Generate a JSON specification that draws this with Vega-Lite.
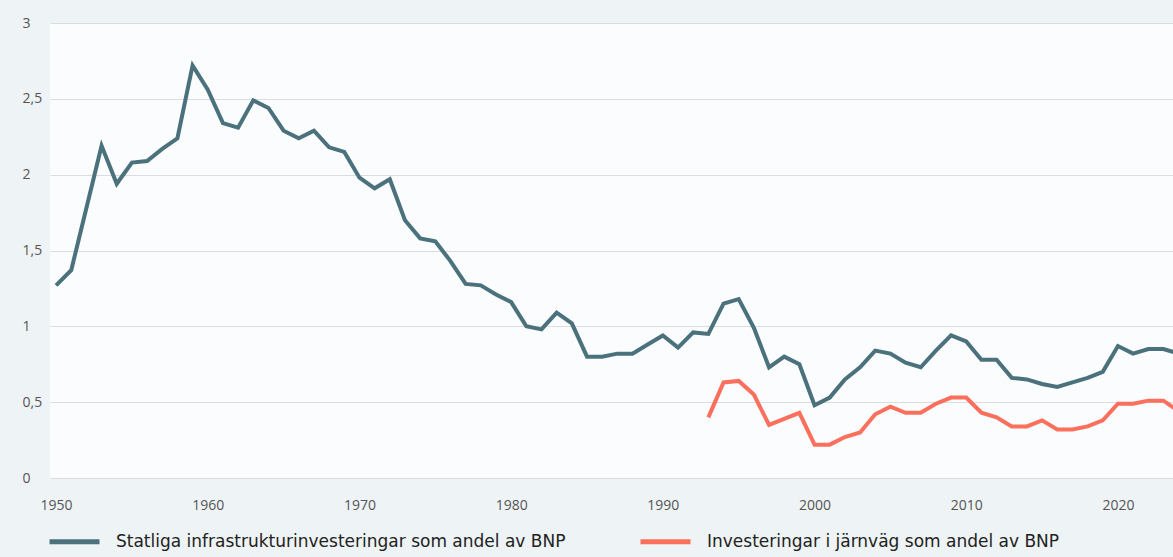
{
  "$schema": "https://vega.github.io/schema/vega-lite/v6.json",
  "width": 1123,
  "height": 455,
  "autosize": "none",
  "padding": {"left": 50, "top": 23, "right": 0, "bottom": 79},
  "background": "#eef3f5",
  "config": {
    "view": {"fill": "#fafcfd", "stroke": null},
    "font": "Open Sans"
  },
  "data": {
    "values": [
      {"year": 1950, "series": "Statliga infrastrukturinvesteringar som andel av BNP", "value": 1.27},
      {"year": 1951, "series": "Statliga infrastrukturinvesteringar som andel av BNP", "value": 1.37},
      {"year": 1952, "series": "Statliga infrastrukturinvesteringar som andel av BNP", "value": 1.78},
      {"year": 1953, "series": "Statliga infrastrukturinvesteringar som andel av BNP", "value": 2.19},
      {"year": 1954, "series": "Statliga infrastrukturinvesteringar som andel av BNP", "value": 1.94},
      {"year": 1955, "series": "Statliga infrastrukturinvesteringar som andel av BNP", "value": 2.08},
      {"year": 1956, "series": "Statliga infrastrukturinvesteringar som andel av BNP", "value": 2.09},
      {"year": 1957, "series": "Statliga infrastrukturinvesteringar som andel av BNP", "value": 2.17},
      {"year": 1958, "series": "Statliga infrastrukturinvesteringar som andel av BNP", "value": 2.24},
      {"year": 1959, "series": "Statliga infrastrukturinvesteringar som andel av BNP", "value": 2.72},
      {"year": 1960, "series": "Statliga infrastrukturinvesteringar som andel av BNP", "value": 2.56},
      {"year": 1961, "series": "Statliga infrastrukturinvesteringar som andel av BNP", "value": 2.34},
      {"year": 1962, "series": "Statliga infrastrukturinvesteringar som andel av BNP", "value": 2.31},
      {"year": 1963, "series": "Statliga infrastrukturinvesteringar som andel av BNP", "value": 2.49},
      {"year": 1964, "series": "Statliga infrastrukturinvesteringar som andel av BNP", "value": 2.44},
      {"year": 1965, "series": "Statliga infrastrukturinvesteringar som andel av BNP", "value": 2.29},
      {"year": 1966, "series": "Statliga infrastrukturinvesteringar som andel av BNP", "value": 2.24},
      {"year": 1967, "series": "Statliga infrastrukturinvesteringar som andel av BNP", "value": 2.29},
      {"year": 1968, "series": "Statliga infrastrukturinvesteringar som andel av BNP", "value": 2.18},
      {"year": 1969, "series": "Statliga infrastrukturinvesteringar som andel av BNP", "value": 2.15},
      {"year": 1970, "series": "Statliga infrastrukturinvesteringar som andel av BNP", "value": 1.98},
      {"year": 1971, "series": "Statliga infrastrukturinvesteringar som andel av BNP", "value": 1.91},
      {"year": 1972, "series": "Statliga infrastrukturinvesteringar som andel av BNP", "value": 1.97},
      {"year": 1973, "series": "Statliga infrastrukturinvesteringar som andel av BNP", "value": 1.7},
      {"year": 1974, "series": "Statliga infrastrukturinvesteringar som andel av BNP", "value": 1.58},
      {"year": 1975, "series": "Statliga infrastrukturinvesteringar som andel av BNP", "value": 1.56},
      {"year": 1976, "series": "Statliga infrastrukturinvesteringar som andel av BNP", "value": 1.43},
      {"year": 1977, "series": "Statliga infrastrukturinvesteringar som andel av BNP", "value": 1.28},
      {"year": 1978, "series": "Statliga infrastrukturinvesteringar som andel av BNP", "value": 1.27},
      {"year": 1979, "series": "Statliga infrastrukturinvesteringar som andel av BNP", "value": 1.21},
      {"year": 1980, "series": "Statliga infrastrukturinvesteringar som andel av BNP", "value": 1.16},
      {"year": 1981, "series": "Statliga infrastrukturinvesteringar som andel av BNP", "value": 1.0},
      {"year": 1982, "series": "Statliga infrastrukturinvesteringar som andel av BNP", "value": 0.98},
      {"year": 1983, "series": "Statliga infrastrukturinvesteringar som andel av BNP", "value": 1.09},
      {"year": 1984, "series": "Statliga infrastrukturinvesteringar som andel av BNP", "value": 1.02},
      {"year": 1985, "series": "Statliga infrastrukturinvesteringar som andel av BNP", "value": 0.8},
      {"year": 1986, "series": "Statliga infrastrukturinvesteringar som andel av BNP", "value": 0.8},
      {"year": 1987, "series": "Statliga infrastrukturinvesteringar som andel av BNP", "value": 0.82},
      {"year": 1988, "series": "Statliga infrastrukturinvesteringar som andel av BNP", "value": 0.82},
      {"year": 1989, "series": "Statliga infrastrukturinvesteringar som andel av BNP", "value": 0.88},
      {"year": 1990, "series": "Statliga infrastrukturinvesteringar som andel av BNP", "value": 0.94},
      {"year": 1991, "series": "Statliga infrastrukturinvesteringar som andel av BNP", "value": 0.86},
      {"year": 1992, "series": "Statliga infrastrukturinvesteringar som andel av BNP", "value": 0.96},
      {"year": 1993, "series": "Statliga infrastrukturinvesteringar som andel av BNP", "value": 0.95},
      {"year": 1994, "series": "Statliga infrastrukturinvesteringar som andel av BNP", "value": 1.15},
      {"year": 1995, "series": "Statliga infrastrukturinvesteringar som andel av BNP", "value": 1.18},
      {"year": 1996, "series": "Statliga infrastrukturinvesteringar som andel av BNP", "value": 0.99},
      {"year": 1997, "series": "Statliga infrastrukturinvesteringar som andel av BNP", "value": 0.73},
      {"year": 1998, "series": "Statliga infrastrukturinvesteringar som andel av BNP", "value": 0.8},
      {"year": 1999, "series": "Statliga infrastrukturinvesteringar som andel av BNP", "value": 0.75},
      {"year": 2000, "series": "Statliga infrastrukturinvesteringar som andel av BNP", "value": 0.48},
      {"year": 2001, "series": "Statliga infrastrukturinvesteringar som andel av BNP", "value": 0.53},
      {"year": 2002, "series": "Statliga infrastrukturinvesteringar som andel av BNP", "value": 0.65},
      {"year": 2003, "series": "Statliga infrastrukturinvesteringar som andel av BNP", "value": 0.73},
      {"year": 2004, "series": "Statliga infrastrukturinvesteringar som andel av BNP", "value": 0.84},
      {"year": 2005, "series": "Statliga infrastrukturinvesteringar som andel av BNP", "value": 0.82},
      {"year": 2006, "series": "Statliga infrastrukturinvesteringar som andel av BNP", "value": 0.76},
      {"year": 2007, "series": "Statliga infrastrukturinvesteringar som andel av BNP", "value": 0.73},
      {"year": 2008, "series": "Statliga infrastrukturinvesteringar som andel av BNP", "value": 0.84},
      {"year": 2009, "series": "Statliga infrastrukturinvesteringar som andel av BNP", "value": 0.94},
      {"year": 2010, "series": "Statliga infrastrukturinvesteringar som andel av BNP", "value": 0.9},
      {"year": 2011, "series": "Statliga infrastrukturinvesteringar som andel av BNP", "value": 0.78},
      {"year": 2012, "series": "Statliga infrastrukturinvesteringar som andel av BNP", "value": 0.78},
      {"year": 2013, "series": "Statliga infrastrukturinvesteringar som andel av BNP", "value": 0.66},
      {"year": 2014, "series": "Statliga infrastrukturinvesteringar som andel av BNP", "value": 0.65},
      {"year": 2015, "series": "Statliga infrastrukturinvesteringar som andel av BNP", "value": 0.62},
      {"year": 2016, "series": "Statliga infrastrukturinvesteringar som andel av BNP", "value": 0.6},
      {"year": 2017, "series": "Statliga infrastrukturinvesteringar som andel av BNP", "value": 0.63},
      {"year": 2018, "series": "Statliga infrastrukturinvesteringar som andel av BNP", "value": 0.66},
      {"year": 2019, "series": "Statliga infrastrukturinvesteringar som andel av BNP", "value": 0.7},
      {"year": 2020, "series": "Statliga infrastrukturinvesteringar som andel av BNP", "value": 0.87},
      {"year": 2021, "series": "Statliga infrastrukturinvesteringar som andel av BNP", "value": 0.82},
      {"year": 2022, "series": "Statliga infrastrukturinvesteringar som andel av BNP", "value": 0.85},
      {"year": 2023, "series": "Statliga infrastrukturinvesteringar som andel av BNP", "value": 0.85},
      {"year": 2024, "series": "Statliga infrastrukturinvesteringar som andel av BNP", "value": 0.82},
      {"year": 1993, "series": "Investeringar i järnväg som andel av BNP", "value": 0.4},
      {"year": 1994, "series": "Investeringar i järnväg som andel av BNP", "value": 0.63},
      {"year": 1995, "series": "Investeringar i järnväg som andel av BNP", "value": 0.64},
      {"year": 1996, "series": "Investeringar i järnväg som andel av BNP", "value": 0.55},
      {"year": 1997, "series": "Investeringar i järnväg som andel av BNP", "value": 0.35},
      {"year": 1998, "series": "Investeringar i järnväg som andel av BNP", "value": 0.39},
      {"year": 1999, "series": "Investeringar i järnväg som andel av BNP", "value": 0.43},
      {"year": 2000, "series": "Investeringar i järnväg som andel av BNP", "value": 0.22},
      {"year": 2001, "series": "Investeringar i järnväg som andel av BNP", "value": 0.22},
      {"year": 2002, "series": "Investeringar i järnväg som andel av BNP", "value": 0.27},
      {"year": 2003, "series": "Investeringar i järnväg som andel av BNP", "value": 0.3},
      {"year": 2004, "series": "Investeringar i järnväg som andel av BNP", "value": 0.42},
      {"year": 2005, "series": "Investeringar i järnväg som andel av BNP", "value": 0.47},
      {"year": 2006, "series": "Investeringar i järnväg som andel av BNP", "value": 0.43},
      {"year": 2007, "series": "Investeringar i järnväg som andel av BNP", "value": 0.43},
      {"year": 2008, "series": "Investeringar i järnväg som andel av BNP", "value": 0.49},
      {"year": 2009, "series": "Investeringar i järnväg som andel av BNP", "value": 0.53},
      {"year": 2010, "series": "Investeringar i järnväg som andel av BNP", "value": 0.53},
      {"year": 2011, "series": "Investeringar i järnväg som andel av BNP", "value": 0.43},
      {"year": 2012, "series": "Investeringar i järnväg som andel av BNP", "value": 0.4},
      {"year": 2013, "series": "Investeringar i järnväg som andel av BNP", "value": 0.34},
      {"year": 2014, "series": "Investeringar i järnväg som andel av BNP", "value": 0.34},
      {"year": 2015, "series": "Investeringar i järnväg som andel av BNP", "value": 0.38},
      {"year": 2016, "series": "Investeringar i järnväg som andel av BNP", "value": 0.32},
      {"year": 2017, "series": "Investeringar i järnväg som andel av BNP", "value": 0.32},
      {"year": 2018, "series": "Investeringar i järnväg som andel av BNP", "value": 0.34},
      {"year": 2019, "series": "Investeringar i järnväg som andel av BNP", "value": 0.38},
      {"year": 2020, "series": "Investeringar i järnväg som andel av BNP", "value": 0.49},
      {"year": 2021, "series": "Investeringar i järnväg som andel av BNP", "value": 0.49},
      {"year": 2022, "series": "Investeringar i järnväg som andel av BNP", "value": 0.51},
      {"year": 2023, "series": "Investeringar i järnväg som andel av BNP", "value": 0.51},
      {"year": 2024, "series": "Investeringar i järnväg som andel av BNP", "value": 0.44}
    ]
  },
  "mark": {"type": "line", "strokeWidth": 4, "clip": true, "strokeJoin": "miter"},
  "encoding": {
    "x": {
      "field": "year",
      "type": "quantitative",
      "scale": {"domain": [1949.6, 2023.63], "nice": false, "zero": false},
      "axis": {
        "title": null,
        "values": [1950, 1960, 1970, 1980, 1990, 2000, 2010, 2020],
        "format": "d",
        "grid": false,
        "domain": false,
        "ticks": false,
        "labelPadding": 20,
        "labelFontSize": 14,
        "labelColor": "#555555"
      }
    },
    "y": {
      "field": "value",
      "type": "quantitative",
      "scale": {"domain": [0, 3], "nice": false},
      "axis": {
        "title": null,
        "values": [0, 0.5, 1, 1.5, 2, 2.5, 3],
        "labelExpr": "replace(format(datum.value, '~g'), '.', ',')",
        "grid": true,
        "gridColor": "#dcdcdc",
        "gridWidth": 1.2,
        "domain": false,
        "ticks": false,
        "labelAlign": "left",
        "labelPadding": 28,
        "labelFontSize": 14,
        "labelColor": "#555555"
      }
    },
    "color": {
      "field": "series",
      "type": "nominal",
      "scale": {
        "domain": ["Statliga infrastrukturinvesteringar som andel av BNP", "Investeringar i järnväg som andel av BNP"],
        "range": ["#4a717c", "#fb6f5d"]
      },
      "legend": {
        "title": null,
        "orient": "none",
        "legendX": -3,
        "legendY": 491,
        "padding": 0,
        "direction": "horizontal",
        "symbolType": "stroke",
        "symbolSize": 2500,
        "symbolStrokeWidth": 5,
        "labelFont": "DejaVu Sans",
        "labelFontSize": 17,
        "labelColor": "#222222",
        "labelOffset": 14,
        "columnPadding": 64,
        "labelLimit": 600
      }
    }
  }
}
